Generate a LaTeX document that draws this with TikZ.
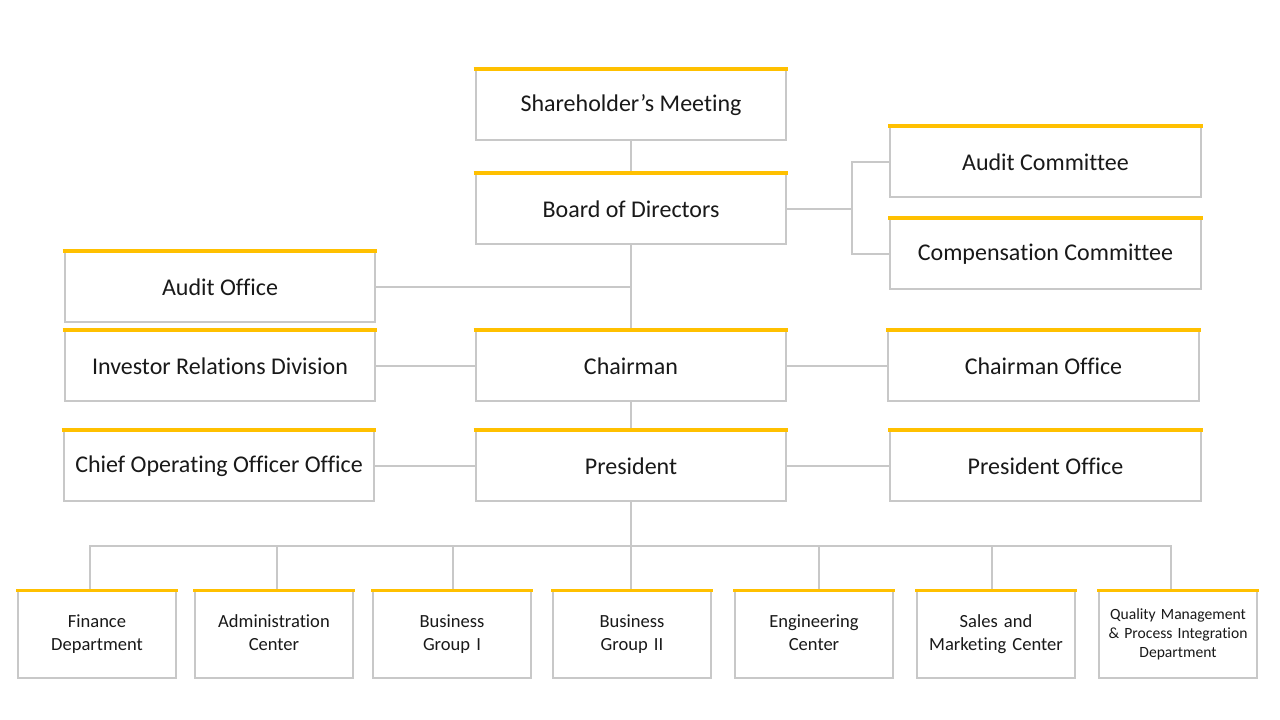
\documentclass[tikz,border=0pt]{standalone}
\usepackage{fontspec}
\setmainfont{Carlito}[Ligatures=NoCommon]
\usepackage{xcolor}

\definecolor{boxgray}{HTML}{C8C8C8}
\definecolor{topgold}{HTML}{FFC000}

\begin{document}
\begin{tikzpicture}[x=0.75pt, y=-0.75pt]

    %--- Styles for boxes and lines
    \tikzstyle{unit}=[draw=boxgray, line width=1.5pt, fill=white, minimum width=233pt, minimum height=52.5pt, inner sep=2pt, text=black!90, font=\fontsize{18}{21}\selectfont]
    \tikzstyle{dept}=[unit, minimum width=118.5pt, minimum height=65pt, text width=112pt, align=center, font=\fontsize{13.9}{17.3}\selectfont, execute at begin node=\strut, execute at end node=\strut]
    \tikzstyle{conn}=[draw=boxgray, line width=1.5pt]
    \tikzstyle{goldtop}=[draw=topgold, line width=2.4pt]

    \useasboundingbox (0,0) rectangle (1280,720);

    %--- Governance boxes
    \node[unit] (sm)  at (631,105)    {Shareholder’s Meeting};
    \node[unit] (bod) at (631,209)    {Board of Directors};
    \node[unit] (ac)  at (1045.5,162) {Audit Committee};
    \node[unit] (cc)  at (1045.5,254) {Compensation Committee};

    %--- Management boxes
    \node[unit] (ao)  at (220,287)    {Audit Office};
    \node[unit] (ir)  at (220,366)    {Investor Relations Division};
    \node[unit] (ch)  at (631,366)    {Chairman};
    \node[unit] (cho) at (1043.5,366) {Chairman Office};
    \node[unit] (coo) at (219,466)    {Chief Operating Officer Office};
    \node[unit] (pr)  at (631,466)    {President};
    \node[unit] (pro) at (1045.5,466) {President Office};

    %--- Departments
    \node[dept] (fin) at (97,634.5)   {Finance\\Department};
    \node[dept] (adm) at (274,634.5)  {Administration\\Center};
    \node[dept] (bg1) at (452,634.5)  {Business\\Group I};
    \node[dept] (bg2) at (632,634.5)  {Business\\Group II};
    \node[dept] (eng) at (814,634.5)  {Engineering\\Center};
    \node[dept] (sal) at (996,634.5)  {Sales and\\Marketing Center};
    \node[dept, font=\fontsize{11.7}{14.2}\selectfont] (qm) at (1178,634.5) {Quality Management\\\&~Process Integration\\Department};

    %--- Connectors
    \coordinate (bj)  at (852,209);
    \coordinate (bus) at (631,546);
    \draw[conn] (sm) -- (bod);
    \draw[conn] (bod.east) -- (bj);
    \draw[conn] (ac.west) -| (bj) |- (cc.west);
    \draw[conn] (bod) -- (ch);
    \draw[conn] (ao.east) -- (ao.east -| bus);
    \draw[conn] (ir) -- (ch);
    \draw[conn] (ch) -- (cho);
    \draw[conn] (ch) -- (pr);
    \draw[conn] (coo) -- (pr);
    \draw[conn] (pr) -- (pro);
    \draw[conn] (pr.south -| bus) -- (bus);
    \foreach \n/\dx in {fin/-5.25, adm/2.25, bg1/0.75, bg2/-0.75, eng/3.75, sal/-3, qm/-5.25}
        \draw[conn] ([xshift=\dx pt]\n.north) |- (bus);

    %--- Gold top edges
    \foreach \n in {sm, bod, ac, cc, ao, ir, ch, cho, coo, pr, pro, fin, adm, bg1, bg2, eng, sal, qm}
        \draw[goldtop] ([xshift=-0.75pt]\n.north west) -- ([xshift=0.75pt]\n.north east);

\end{tikzpicture}
\end{document}
